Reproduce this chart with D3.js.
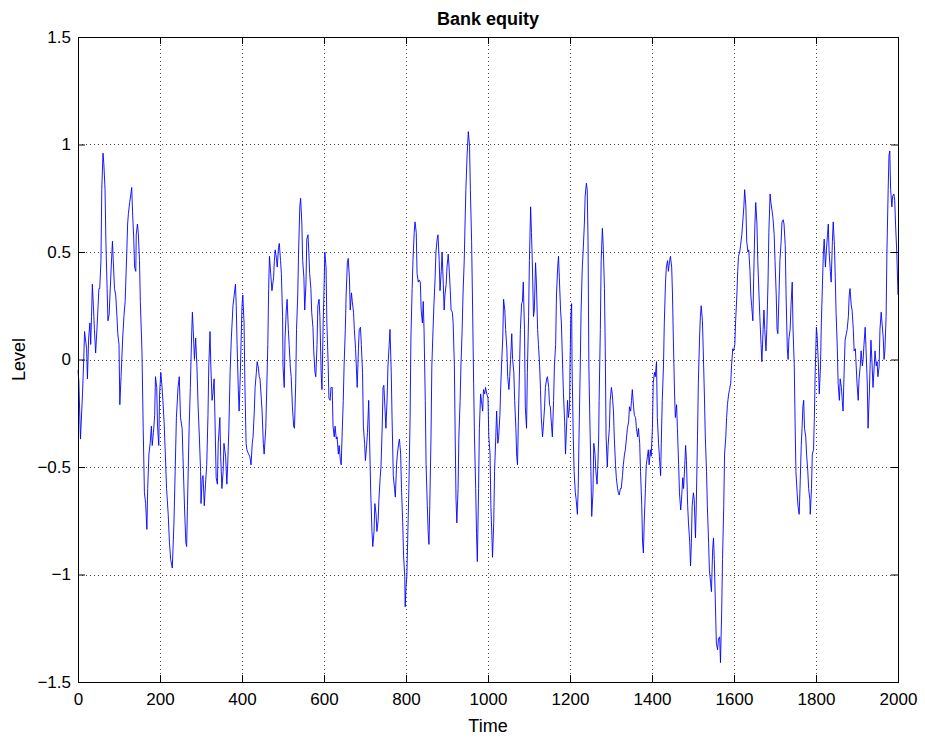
<!DOCTYPE html>
<html>
<head>
<meta charset="utf-8">
<title>Bank equity</title>
<script src="https://cdn.jsdelivr.net/npm/d3@7"></script>
<style>
  body { margin: 0; background: #fff; }
  svg text { font-family: "Liberation Sans", Arial, Helvetica, sans-serif; fill: #000; }
</style>
</head>
<body>
<script>
// level of bank equity as [time, level]
var equity = [
  [0,-0.05],[2,-0.10],[6,-0.37],[11,-0.16],[14,0.00],[16,0.13],[21,0.05],[23,-0.09],[26,0.10],[29,0.17],
  [31,0.07],[33,0.20],[35,0.35],[38,0.23],[40,0.14],[43,0.03],[47,0.17],[51,0.33],[53,0.33],[56,0.46],
  [58,0.79],[61,0.96],[63,0.91],[66,0.79],[68,0.55],[71,0.33],[73,0.18],[76,0.21],[78,0.30],[81,0.43],
  [84,0.55],[86,0.46],[89,0.33],[92,0.30],[95,0.20],[97,0.12],[100,0.07],[102,-0.21],[105,-0.08],[109,0.10],
  [112,0.20],[115,0.27],[119,0.50],[121,0.63],[123,0.68],[126,0.73],[129,0.77],[131,0.80],[133,0.69],[136,0.56],
  [138,0.43],[141,0.41],[142,0.58],[145,0.63],[147,0.59],[150,0.46],[152,0.27],[156,0.04],[159,-0.32],[162,-0.62],
  [165,-0.67],[168,-0.79],[170,-0.60],[173,-0.44],[176,-0.39],[179,-0.31],[181,-0.40],[184,-0.34],[187,-0.26],[189,-0.08],
  [192,-0.13],[194,-0.31],[197,-0.40],[199,-0.16],[202,-0.06],[205,-0.13],[207,-0.19],[210,-0.29],[213,-0.44],[216,-0.60],
  [220,-0.72],[223,-0.85],[226,-0.93],[230,-0.97],[234,-0.76],[237,-0.52],[240,-0.27],[244,-0.13],[247,-0.08],[250,-0.27],
  [254,-0.32],[256,-0.45],[260,-0.70],[263,-0.85],[265,-0.87],[267,-0.68],[271,-0.32],[274,-0.13],[277,0.10],[279,0.22],
  [281,0.14],[284,0.00],[287,0.10],[290,-0.03],[293,-0.22],[296,-0.36],[299,-0.52],[300,-0.67],[303,-0.55],[305,-0.54],
  [308,-0.68],[311,-0.58],[314,-0.49],[317,-0.26],[319,-0.03],[322,0.13],[324,-0.03],[327,-0.19],[329,-0.16],[332,-0.09],
  [334,-0.27],[337,-0.55],[340,-0.58],[342,-0.39],[346,-0.27],[348,-0.45],[351,-0.60],[354,-0.52],[356,-0.39],[360,-0.45],
  [363,-0.58],[365,-0.50],[368,-0.32],[371,-0.06],[374,0.10],[378,0.25],[381,0.30],[384,0.35],[386,0.25],[388,0.07],
  [391,-0.14],[393,-0.24],[396,-0.06],[398,0.10],[400,0.25],[402,0.30],[405,0.17],[407,-0.11],[410,-0.39],[412,-0.42],
  [416,-0.44],[419,-0.45],[422,-0.49],[425,-0.39],[427,-0.36],[430,-0.24],[432,-0.13],[435,-0.06],[437,-0.01],[440,-0.04],
  [442,-0.08],[444,-0.09],[447,-0.18],[449,-0.24],[452,-0.39],[454,-0.44],[458,-0.32],[460,-0.16],[463,0.07],[465,0.33],
  [467,0.48],[470,0.40],[473,0.32],[477,0.38],[479,0.46],[481,0.51],[484,0.47],[486,0.43],[489,0.52],[491,0.54],
  [494,0.46],[496,0.40],[499,0.20],[500,-0.03],[503,-0.13],[505,0.10],[508,0.23],[510,0.28],[513,0.14],[515,0.07],
  [518,-0.04],[520,-0.08],[523,-0.22],[526,-0.31],[528,-0.32],[531,-0.11],[533,0.14],[536,0.30],[538,0.50],[541,0.71],
  [543,0.75],[546,0.63],[548,0.46],[551,0.38],[553,0.23],[556,0.35],[558,0.56],[561,0.58],[563,0.50],[565,0.40],
  [568,0.33],[570,0.22],[573,0.15],[575,0.04],[578,-0.06],[580,-0.08],[583,0.07],[585,0.25],[588,0.28],[590,0.20],
  [593,-0.06],[595,-0.14],[598,0.17],[600,0.32],[602,0.50],[605,0.43],[607,0.17],[610,-0.01],[612,-0.18],[615,-0.19],
  [617,-0.13],[620,-0.13],[622,-0.31],[625,-0.36],[627,-0.31],[630,-0.37],[632,-0.36],[635,-0.44],[637,-0.40],[640,-0.47],
  [642,-0.49],[644,-0.36],[647,-0.19],[649,-0.03],[652,0.14],[654,0.30],[657,0.45],[659,0.47],[662,0.38],[664,0.23],
  [667,0.31],[669,0.27],[672,0.22],[674,0.14],[677,0.05],[679,-0.04],[681,-0.13],[684,0.05],[686,0.14],[689,0.15],
  [691,0.07],[694,-0.06],[696,-0.31],[699,-0.39],[701,-0.47],[704,-0.40],[706,-0.34],[709,-0.19],[711,-0.36],[714,-0.62],
  [717,-0.80],[719,-0.87],[722,-0.80],[724,-0.67],[727,-0.72],[729,-0.80],[732,-0.75],[734,-0.65],[737,-0.55],[739,-0.50],
  [742,-0.31],[744,-0.13],[746,-0.12],[749,-0.24],[751,-0.32],[754,-0.18],[756,-0.03],[759,0.07],[761,0.14],[764,-0.06],
  [766,-0.27],[769,-0.54],[772,-0.60],[774,-0.64],[777,-0.49],[779,-0.44],[782,-0.39],[784,-0.37],[787,-0.44],[789,-0.60],
  [792,-0.76],[794,-0.91],[797,-1.01],[798,-1.15],[800,-1.06],[802,-1.01],[804,-0.85],[807,-0.60],[810,-0.27],[812,0.10],
  [815,0.33],[817,0.46],[820,0.59],[822,0.64],[825,0.59],[827,0.40],[830,0.36],[832,0.37],[835,0.36],[837,0.23],
  [840,0.17],[842,0.27],[844,0.14],[847,-0.19],[849,-0.49],[852,-0.68],[854,-0.80],[856,-0.86],[858,-0.68],[861,-0.36],
  [863,-0.03],[866,0.14],[868,0.25],[871,0.38],[873,0.50],[876,0.56],[878,0.58],[881,0.46],[883,0.32],[886,0.41],
  [888,0.50],[891,0.35],[893,0.23],[895,0.30],[898,0.35],[900,0.43],[903,0.49],[905,0.43],[908,0.32],[910,0.23],
  [913,0.22],[915,0.17],[918,-0.03],[920,-0.36],[922,-0.65],[924,-0.76],[927,-0.60],[929,-0.36],[932,-0.19],[934,-0.03],
  [937,0.14],[939,0.30],[942,0.46],[944,0.63],[946,0.79],[949,0.95],[952,1.06],[955,0.99],[957,0.79],[960,0.55],
  [962,0.30],[965,-0.11],[967,-0.36],[970,-0.60],[972,-0.81],[974,-0.94],[977,-0.60],[979,-0.32],[982,-0.16],[984,-0.19],
  [987,-0.24],[989,-0.14],[992,-0.16],[994,-0.13],[997,-0.16],[1000,-0.18],[1002,-0.36],[1005,-0.44],[1007,-0.68],[1010,-0.85],
  [1011,-0.92],[1014,-0.76],[1016,-0.52],[1019,-0.36],[1021,-0.24],[1024,-0.39],[1026,-0.36],[1029,-0.26],[1031,-0.13],[1033,-0.03],
  [1036,0.10],[1038,0.28],[1041,0.23],[1043,0.14],[1046,0.05],[1048,-0.08],[1051,-0.14],[1053,-0.08],[1055,0.00],[1058,0.12],
  [1060,0.00],[1063,-0.06],[1065,-0.19],[1068,-0.32],[1070,-0.45],[1072,-0.49],[1074,-0.29],[1077,-0.03],[1079,0.14],[1082,0.26],
  [1084,0.27],[1086,0.36],[1089,0.14],[1091,-0.22],[1094,-0.32],[1096,-0.06],[1099,0.20],[1101,0.46],[1104,0.71],[1106,0.59],
  [1108,0.46],[1111,0.20],[1113,0.23],[1116,0.45],[1118,0.36],[1121,0.14],[1123,0.07],[1126,-0.03],[1128,-0.14],[1130,-0.27],
  [1133,-0.36],[1135,-0.31],[1138,-0.22],[1140,-0.13],[1143,-0.09],[1145,-0.08],[1148,-0.13],[1150,-0.21],[1152,-0.22],[1155,-0.31],
  [1157,-0.36],[1160,-0.19],[1162,-0.03],[1165,0.07],[1167,0.30],[1170,0.43],[1172,0.48],[1174,0.38],[1177,0.23],[1179,0.17],
  [1182,-0.03],[1184,-0.16],[1187,-0.29],[1189,-0.44],[1192,-0.29],[1194,-0.19],[1196,-0.27],[1199,-0.22],[1200,-0.03],[1202,0.20],
  [1204,0.26],[1205,-0.03],[1208,-0.36],[1210,-0.52],[1213,-0.62],[1215,-0.65],[1218,-0.72],[1220,-0.60],[1222,-0.36],[1225,-0.03],
  [1227,0.22],[1230,0.43],[1232,0.50],[1235,0.63],[1237,0.76],[1240,0.82],[1242,0.79],[1244,0.55],[1246,-0.03],[1248,-0.24],
  [1251,-0.52],[1253,-0.73],[1256,-0.62],[1258,-0.39],[1261,-0.44],[1263,-0.52],[1266,-0.58],[1268,-0.49],[1270,-0.36],[1271,-0.19],
  [1274,0.14],[1276,0.46],[1279,0.61],[1281,0.53],[1284,0.33],[1286,0.05],[1288,-0.36],[1291,-0.50],[1293,-0.40],[1296,-0.32],
  [1298,-0.19],[1301,-0.13],[1303,-0.16],[1306,-0.24],[1308,-0.36],[1311,-0.49],[1313,-0.55],[1316,-0.60],[1318,-0.62],[1320,-0.63],
  [1323,-0.60],[1325,-0.60],[1328,-0.54],[1330,-0.49],[1333,-0.44],[1335,-0.42],[1338,-0.36],[1340,-0.32],[1343,-0.29],[1345,-0.22],
  [1348,-0.24],[1350,-0.19],[1352,-0.14],[1355,-0.22],[1357,-0.26],[1360,-0.27],[1362,-0.32],[1365,-0.36],[1367,-0.32],[1370,-0.39],
  [1372,-0.52],[1375,-0.68],[1377,-0.85],[1379,-0.90],[1381,-0.76],[1384,-0.60],[1386,-0.49],[1389,-0.45],[1391,-0.42],[1393,-0.49],
  [1396,-0.42],[1398,-0.45],[1401,-0.32],[1403,-0.11],[1406,-0.06],[1408,-0.08],[1411,-0.01],[1413,-0.27],[1416,-0.39],[1418,-0.45],
  [1421,-0.54],[1423,-0.36],[1425,-0.19],[1428,-0.03],[1430,0.17],[1433,0.36],[1435,0.43],[1438,0.46],[1440,0.41],[1443,0.46],
  [1445,0.48],[1448,0.43],[1450,0.30],[1452,0.10],[1455,-0.16],[1457,-0.27],[1460,-0.21],[1462,-0.32],[1465,-0.49],[1467,-0.62],
  [1470,-0.70],[1472,-0.65],[1475,-0.55],[1477,-0.60],[1480,-0.49],[1482,-0.40],[1484,-0.47],[1487,-0.68],[1489,-0.76],[1492,-0.85],
  [1494,-0.96],[1496,-0.85],[1498,-0.68],[1501,-0.62],[1503,-0.65],[1506,-0.83],[1508,-0.68],[1511,-0.36],[1513,-0.11],[1516,0.10],
  [1518,0.20],[1520,0.25],[1523,0.18],[1525,0.04],[1528,-0.18],[1530,-0.36],[1533,-0.52],[1535,-0.68],[1538,-0.85],[1540,-0.98],
  [1543,-1.04],[1545,-1.08],[1548,-0.88],[1550,-0.83],[1552,-0.93],[1555,-1.17],[1557,-1.32],[1560,-1.35],[1562,-1.30],[1565,-1.29],
  [1567,-1.41],[1570,-1.17],[1572,-0.93],[1575,-0.68],[1577,-0.44],[1580,-0.36],[1582,-0.27],[1584,-0.21],[1587,-0.16],[1589,-0.14],
  [1592,-0.11],[1594,-0.03],[1597,0.05],[1599,0.04],[1602,0.07],[1604,0.18],[1607,0.30],[1609,0.41],[1611,0.48],[1614,0.50],
  [1616,0.53],[1619,0.58],[1621,0.63],[1624,0.71],[1626,0.79],[1629,0.71],[1631,0.55],[1634,0.50],[1636,0.51],[1639,0.41],
  [1641,0.30],[1643,0.25],[1646,0.18],[1648,0.38],[1651,0.63],[1653,0.73],[1656,0.63],[1658,0.46],[1661,0.30],[1663,0.20],
  [1666,0.07],[1668,-0.01],[1671,0.14],[1673,0.23],[1675,0.14],[1678,0.04],[1680,0.14],[1683,0.36],[1685,0.59],[1688,0.77],
  [1690,0.73],[1693,0.69],[1695,0.66],[1698,0.58],[1700,0.46],[1703,0.30],[1705,0.14],[1707,0.12],[1710,0.32],[1712,0.46],
  [1715,0.55],[1717,0.64],[1720,0.65],[1722,0.63],[1725,0.53],[1727,0.30],[1730,0.05],[1732,0.00],[1734,0.10],[1737,0.14],
  [1739,0.25],[1742,0.36],[1744,0.14],[1747,-0.03],[1749,-0.29],[1751,-0.52],[1754,-0.62],[1756,-0.68],[1759,-0.72],[1761,-0.60],
  [1764,-0.40],[1766,-0.32],[1768,-0.22],[1770,-0.19],[1772,-0.32],[1775,-0.36],[1777,-0.44],[1780,-0.52],[1782,-0.60],[1785,-0.65],
  [1786,-0.72],[1789,-0.60],[1791,-0.44],[1794,-0.42],[1796,-0.27],[1798,-0.06],[1801,0.15],[1803,0.10],[1806,-0.03],[1808,-0.16],
  [1811,-0.03],[1813,0.17],[1815,0.30],[1818,0.50],[1820,0.56],[1823,0.43],[1825,0.50],[1828,0.58],[1830,0.63],[1832,0.50],
  [1835,0.41],[1837,0.36],[1840,0.55],[1842,0.64],[1845,0.53],[1847,0.38],[1849,0.22],[1852,0.05],[1854,-0.11],[1857,-0.19],
  [1859,-0.09],[1862,-0.13],[1864,-0.19],[1866,-0.24],[1869,-0.03],[1871,0.09],[1874,0.12],[1876,0.14],[1879,0.20],[1881,0.30],
  [1883,0.33],[1886,0.25],[1888,0.23],[1891,0.14],[1893,0.04],[1896,0.05],[1898,-0.03],[1900,-0.11],[1903,-0.19],[1905,-0.09],
  [1908,-0.03],[1910,0.04],[1913,-0.03],[1915,0.00],[1917,0.07],[1920,0.15],[1922,0.05],[1925,-0.11],[1927,-0.32],[1930,-0.16],
  [1932,-0.03],[1934,0.09],[1937,-0.03],[1939,-0.13],[1942,-0.03],[1944,0.04],[1947,-0.03],[1949,-0.01],[1951,-0.08],[1954,-0.03],
  [1956,0.14],[1959,0.22],[1961,0.17],[1964,0.10],[1966,0.00],[1968,0.04],[1971,0.20],[1973,0.50],[1976,0.79],[1978,0.95],
  [1980,0.97],[1982,0.79],[1985,0.71],[1987,0.76],[1990,0.77],[1992,0.74],[1994,0.63],[1997,0.50],[2000,0.30]
];

var xTicks = [0, 200, 400, 600, 800, 1000, 1200, 1400, 1600, 1800, 2000];
var yTicks = [-1.5, -1, -0.5, 0, 0.5, 1, 1.5];

// figure size and axes box (avoid the name "top": it is window.top)
var width = 925;
var height = 742;
var plotLeft = 78, plotRight = 898, plotTop = 37, plotBottom = 682;
var tickLen = 7;

var x = d3.scaleLinear().domain([0, 2000]).range([plotLeft, plotRight]);
var y = d3.scaleLinear().domain([-1.5, 1.5]).range([plotBottom, plotTop]);

var svg = d3.select("body").append("svg")
  .attr("width", width)
  .attr("height", height);

svg.append("rect").attr("width", width).attr("height", height).attr("fill", "#fff");

// dotted grid
svg.append("g").selectAll("line").data(xTicks.slice(1, -1)).enter().append("line")
  .attr("x1", d => Math.round(x(d)) + 0.5).attr("x2", d => Math.round(x(d)) + 0.5)
  .attr("y1", plotTop).attr("y2", plotBottom)
  .attr("stroke", "#444").attr("stroke-width", 1).attr("stroke-dasharray", "1,3");
svg.append("g").selectAll("line").data(yTicks.slice(1, -1)).enter().append("line")
  .attr("y1", d => Math.round(y(d)) + 0.5).attr("y2", d => Math.round(y(d)) + 0.5)
  .attr("x1", plotLeft).attr("x2", plotRight)
  .attr("stroke", "#444").attr("stroke-width", 1).attr("stroke-dasharray", "1,3");

// the series
var line = d3.line().x(d => x(d[0])).y(d => y(d[1]));
svg.append("path").datum(equity)
  .attr("d", line)
  .attr("fill", "none")
  .attr("stroke", "#0000ff")
  .attr("stroke-width", 0.9)
  .attr("stroke-linejoin", "round");

// axes, ticks pointing inward on all four sides
function styleAxis(g) {
  g.select(".domain").remove();
  g.selectAll(".tick line").attr("stroke", "#000");
  g.selectAll(".tick text").style("font-size", "17px").attr("fill", "#000");
}

svg.append("g")
  .attr("transform", "translate(0," + plotBottom + ")")
  .call(d3.axisBottom(x).tickValues(xTicks).tickFormat(d3.format("d")).tickSizeInner(-tickLen).tickSizeOuter(0).tickPadding(11))
  .call(styleAxis);
svg.append("g")
  .attr("transform", "translate(0," + plotTop + ")")
  .call(d3.axisTop(x).tickValues(xTicks).tickFormat("").tickSizeInner(-tickLen).tickSizeOuter(0))
  .call(styleAxis);
svg.append("g")
  .attr("transform", "translate(" + plotLeft + ",0)")
  .call(d3.axisLeft(y).tickValues(yTicks).tickFormat(d3.format("")).tickSizeInner(-tickLen).tickSizeOuter(0).tickPadding(7))
  .call(styleAxis);
svg.append("g")
  .attr("transform", "translate(" + plotRight + ",0)")
  .call(d3.axisRight(y).tickValues(yTicks).tickFormat("").tickSizeInner(-tickLen).tickSizeOuter(0))
  .call(styleAxis);

// box
svg.append("rect")
  .attr("x", plotLeft + 0.5).attr("y", plotTop + 0.5)
  .attr("width", plotRight - plotLeft).attr("height", plotBottom - plotTop)
  .attr("fill", "none").attr("stroke", "#000").attr("stroke-width", 1);

// title and labels
svg.append("text")
  .attr("x", (plotLeft + plotRight) / 2).attr("y", 25)
  .attr("text-anchor", "middle")
  .style("font-size", "18px").style("font-weight", "bold")
  .text("Bank equity");

svg.append("text")
  .attr("x", (plotLeft + plotRight) / 2).attr("y", 732)
  .attr("text-anchor", "middle")
  .style("font-size", "18px")
  .text("Time");

svg.append("text")
  .attr("transform", "translate(25," + (plotTop + plotBottom) / 2 + ") rotate(-90)")
  .attr("text-anchor", "middle")
  .style("font-size", "18px")
  .text("Level");
</script>
</body>
</html>
